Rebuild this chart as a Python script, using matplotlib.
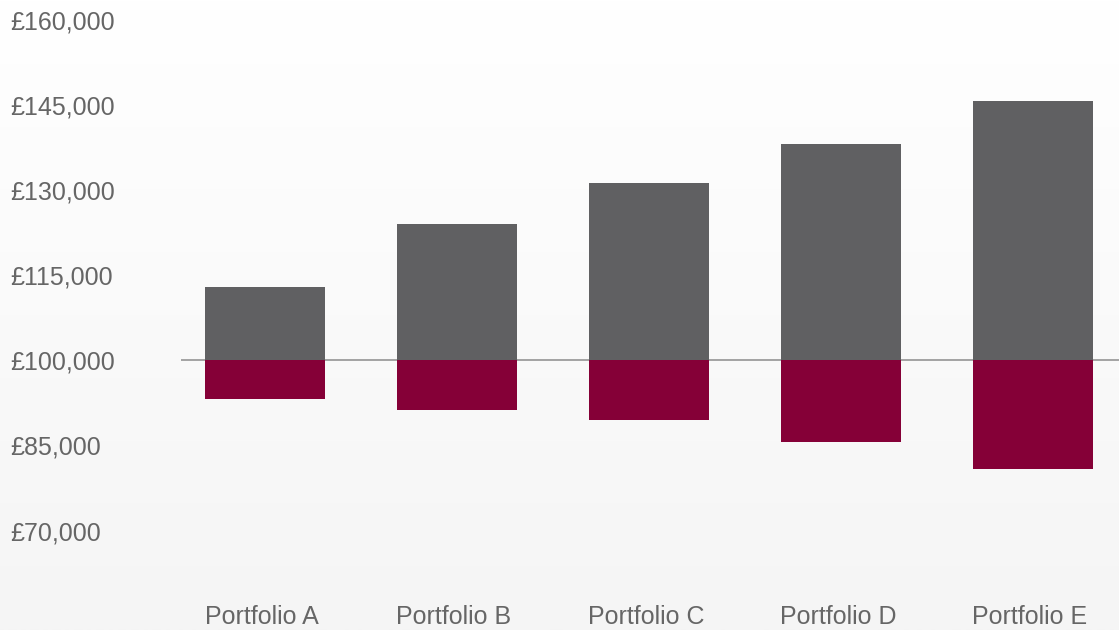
import numpy as np
import matplotlib.pyplot as plt
import matplotlib.transforms as mtransforms

plt.rcParams['font.family'] = ['Liberation Sans', 'DejaVu Sans']

portfolios = ['Portfolio A', 'Portfolio B', 'Portfolio C', 'Portfolio D', 'Portfolio E']
upside = [112850, 124100, 131350, 138200, 145800]
downside = [93150, 91200, 89450, 85550, 80850]
base = 100000
yticks = [70000, 85000, 100000, 115000, 130000, 145000, 160000]

grey = '#606062'
crimson = '#850037'
text_col = '#666666'

fig = plt.figure(figsize=(11.19, 6.30), dpi=100)

# background gradient, white at top to light grey at bottom
bg = fig.add_axes([0, 0, 1, 1], zorder=-10)
grad = np.linspace(0, 1, 256).reshape(-1, 1)
bg.imshow(grad, aspect='auto', cmap=plt.matplotlib.colors.LinearSegmentedColormap.from_list(
    'bg', ['#ffffff', '#f5f5f5']), extent=[0, 1, 0, 1], origin='upper')
bg.axis('off')

ax = fig.add_axes([181 / 1119, 0, 1 - 181 / 1119, 1])
ax.patch.set_alpha(0)

x = np.arange(len(portfolios))
up_h = [u - base for u in upside]
down_h = [base - d for d in downside]
ax.bar(x, up_h, bottom=base, width=0.625, color=grey, zorder=2)
ax.bar(x, down_h, bottom=downside, width=0.625, color=crimson, zorder=2)
ax.axhline(base, color='#8c8c8c', lw=1.1, zorder=1)

# pixel mapping: 160000 at y=20, 15000 per 85.2 px
px = 85.2 / 15000
ax.set_ylim(base - 270 / px, 160000 + 20 / px)
ax.set_xlim(-0.4375, 4.45)

ax.set_yticks(yticks)
ax.set_yticklabels(['£{:,}'.format(v) for v in yticks])
ax.tick_params(axis='y', length=0, pad=123, labelsize=18, labelcolor=text_col)
for lab in ax.get_yticklabels():
    lab.set_horizontalalignment('left')

ax.set_xticks([])
trans = mtransforms.blended_transform_factory(ax.transData, ax.transAxes)
for i, name in enumerate(portfolios):
    ax.text(i - 0.015, 13 / 630, name, transform=trans, ha='center', va='center',
            fontsize=18, color=text_col)

for s in ax.spines.values():
    s.set_visible(False)

fig.savefig('out.png', dpi=100)
